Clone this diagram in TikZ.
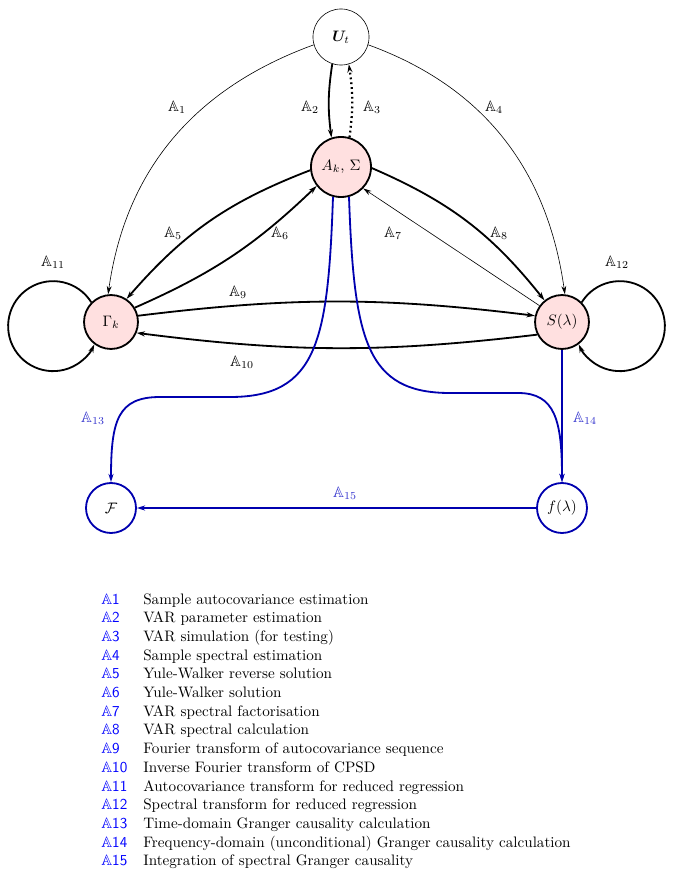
\documentclass[tikz,border=0pt]{standalone}
\usepackage{amsmath,amssymb,bm}
\usetikzlibrary{arrows.meta}
\newcommand{\legA}[1]{$\mathbb{A}$\textsf{#1}}
\definecolor{gcblue}{RGB}{0,0,175}
\definecolor{lblblue}{RGB}{50,50,205}
\begin{document}
\begin{tikzpicture}[
    x=0.66pt, y=0.66pt,
    st/.style={circle, draw, line width=1.2pt, inner sep=0pt, minimum size=#1},
    pink/.style={fill=red!12},
    thk/.style={line width=1.2pt, -{Stealth[length=5.5pt,width=3.4pt]}},
    thn/.style={line width=0.4pt, -{Stealth[length=5.5pt,width=3.2pt]}},
    blu/.style={thk, gcblue},
    lbl/.style={inner sep=1pt},
    leglab/.style={anchor=base west, text=blue, inner sep=0pt},
    legtxt/.style={anchor=base west, inner sep=0pt},
]
\useasboundingbox (0,0) rectangle (673,-877);
% states
\node[st=37pt, line width=0.4pt] (u) at (341,-37)  {$\bm{U}_t$};
\node[st=39.6pt, pink]           (a) at (341,-167) {$A_k$, $\Sigma$};
\node[st=35.6pt, pink]           (g) at (111,-322) {$\Gamma_k$};
\node[st=35.6pt, pink]           (s) at (562,-322) {$S(\lambda)$};
\node[st=33pt, gcblue, text=black] (fc) at (111,-508) {$\mathcal{F}$};
\node[st=33pt, gcblue, text=black] (fs) at (562,-508) {$f(\lambda)$};
% transformations
\draw[thn] (u.196) to[out=200, in=82] (g.96);
\draw[thk] (u.-108) to[bend right=8] (a.108);
\draw[thk, dotted, line width=1.5pt] (a.74) to[bend right=8] (u.-74);
\draw[thn] (u.-16) to[out=-20, in=98] (s.84);
\draw[thk] (a.186) to[bend right=14] (g.56);
\draw[thk] (g.31) to[bend right=10] (a.218);
\draw[thn] (s.144) -- (a.-44);
\draw[thk] (a.-2) to[bend left=14] (s.129);
\draw[thk] (g.13) to[bend left=7] (s.167);
\draw[thk] (s.-153) to[bend left=7] (g.-23);
\draw[thk] (g.135) arc[start angle=32, end angle=336, radius=45];
\draw[thk] (s.45) arc[start angle=148, end angle=-156, radius=45];
\draw[blu] (a.-105) .. controls (328,-340) and (318,-397) .. (230,-397)
    -- (160,-397) .. controls (118,-397) and (111,-420) .. (fc.north);
\draw[blu] (a.-75) .. controls (354,-340) and (366,-393) .. (450,-393)
    -- (518,-393) .. controls (555,-393) and (562,-420) .. (fs.north);
\draw[blu] (s.south) -- (fs.north);
\draw[blu] (fs.west) -- (fc.east);
% labels
\node[lbl] (l1)  at (177,-107) {$\mathbb{A}_1$};
\node[lbl] (l2)  at (310,-107) {$\mathbb{A}_2$};
\node[lbl] (l3)  at (372,-107) {$\mathbb{A}_3$};
\node[lbl] (l4)  at (494,-107) {$\mathbb{A}_4$};
\node[lbl] (l5)  at (173,-233) {$\mathbb{A}_5$};
\node[lbl] (l6)  at (280,-233) {$\mathbb{A}_6$};
\node[lbl] (l7)  at (393,-233) {$\mathbb{A}_7$};
\node[lbl] (l8)  at (499,-233) {$\mathbb{A}_8$};
\node[lbl] (l9)  at (238,-292) {$\mathbb{A}_9$};
\node[lbl] (l10) at (242,-362) {$\mathbb{A}_{10}$};
\node[lbl] (l11) at (53,-262)  {$\mathbb{A}_{11}$};
\node[lbl] (l12) at (617,-262) {$\mathbb{A}_{12}$};
\node[lbl, text=lblblue] (l13) at (93,-418)  {$\mathbb{A}_{13}$};
\node[lbl, text=lblblue] (l14) at (585,-418) {$\mathbb{A}_{14}$};
\node[lbl, text=lblblue] (l15) at (345,-493) {$\mathbb{A}_{15}$};
% legend
\foreach \txt [count=\i] in {Sample autocovariance estimation,
    VAR parameter estimation, VAR simulation (for testing),
    Sample spectral estimation, Yule-Walker reverse solution,
    Yule-Walker solution, VAR spectral factorisation,
    VAR spectral calculation, Fourier transform of autocovariance sequence,
    Inverse Fourier transform of CPSD,
    Autocovariance transform for reduced regression,
    Spectral transform for reduced regression,
    Time-domain Granger causality calculation,
    Frequency-domain (unconditional) Granger causality calculation,
    Integration of spectral Granger causality} {
  \node[leglab] (k\i) at (101,{-604-18.7*(\i-1)}) {\legA{\i}};
  \node[legtxt] (t\i) at (143,{-604-18.7*(\i-1)}) {\txt};
}
\end{tikzpicture}
\end{document}
